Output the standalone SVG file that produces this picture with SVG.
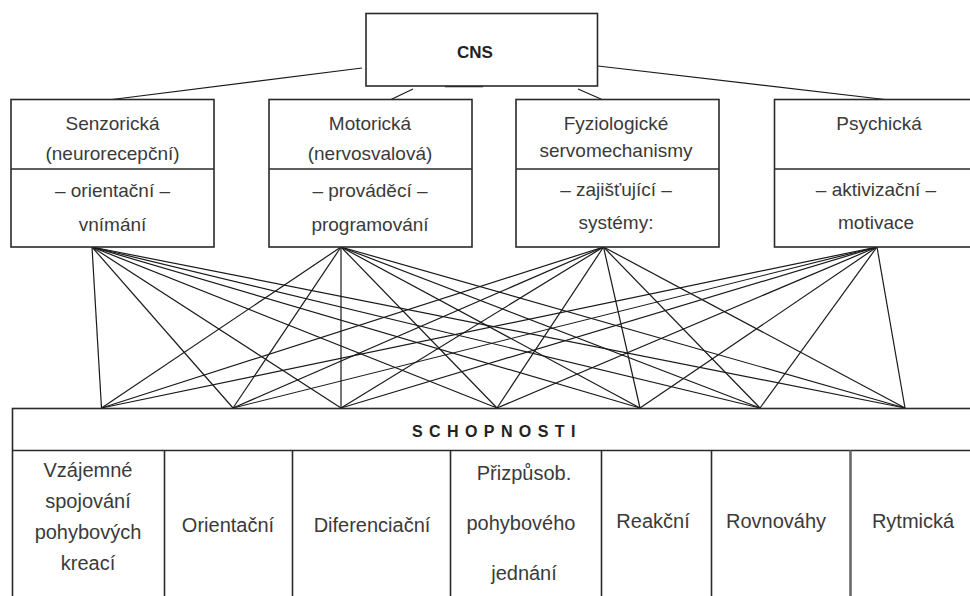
<svg xmlns="http://www.w3.org/2000/svg" width="970" height="596" viewBox="0 0 970 596">
<style>
.bg{fill:#ffffff}
.box{fill:#ffffff;stroke:#2a2a2a;stroke-width:1.6}
.div{stroke:#2a2a2a;stroke-width:1.6;fill:none}
.ln{stroke:#1a1a1a;stroke-width:1.2;fill:none}
.t{font-family:"Liberation Sans",Arial,sans-serif;font-size:19px;fill:#3a3a3a;text-anchor:middle}
.tc{font-family:"Liberation Sans",Arial,sans-serif;font-size:20px;fill:#3a3a3a;text-anchor:middle}
.b{font-family:"Liberation Sans",Arial,sans-serif;font-weight:bold;fill:#222222}
</style>
<rect class="bg" x="0" y="0" width="970" height="596"/>

<g id="connectors">
  <line class="ln" x1="362" y1="68" x2="112" y2="99.5"/>
  <line class="ln" x1="413" y1="89" x2="391" y2="99.5"/>
  <line class="ln" x1="578" y1="89" x2="602" y2="99.5"/>
  <line class="ln" x1="598" y1="66" x2="885" y2="99.5"/>
  <line x1="445" y1="86" x2="483" y2="86" stroke="#1a1a1a" stroke-width="2.6"/>

  <line class="ln" x1="92" y1="247" x2="101.5" y2="408"/>
  <line class="ln" x1="92" y1="247" x2="233" y2="408"/>
  <line class="ln" x1="92" y1="247" x2="341" y2="408"/>
  <line class="ln" x1="92" y1="247" x2="497" y2="408"/>
  <line class="ln" x1="92" y1="247" x2="640" y2="408"/>
  <line class="ln" x1="92" y1="247" x2="760" y2="408"/>
  <line class="ln" x1="92" y1="247" x2="905" y2="408"/>

  <line class="ln" x1="341" y1="247" x2="101.5" y2="408"/>
  <line class="ln" x1="341" y1="247" x2="233" y2="408"/>
  <line class="ln" x1="341" y1="247" x2="341" y2="408"/>
  <line class="ln" x1="341" y1="247" x2="497" y2="408"/>
  <line class="ln" x1="341" y1="247" x2="640" y2="408"/>
  <line class="ln" x1="341" y1="247" x2="760" y2="408"/>
  <line class="ln" x1="341" y1="247" x2="905" y2="408"/>

  <line class="ln" x1="603.5" y1="247" x2="101.5" y2="408"/>
  <line class="ln" x1="603.5" y1="247" x2="233" y2="408"/>
  <line class="ln" x1="603.5" y1="247" x2="341" y2="408"/>
  <line class="ln" x1="603.5" y1="247" x2="497" y2="408"/>
  <line class="ln" x1="603.5" y1="247" x2="640" y2="408"/>
  <line class="ln" x1="603.5" y1="247" x2="760" y2="408"/>
  <line class="ln" x1="603.5" y1="247" x2="905" y2="408"/>

  <line class="ln" x1="877" y1="247" x2="101.5" y2="408"/>
  <line class="ln" x1="877" y1="247" x2="233" y2="408"/>
  <line class="ln" x1="877" y1="247" x2="341" y2="408"/>
  <line class="ln" x1="877" y1="247" x2="497" y2="408"/>
  <line class="ln" x1="877" y1="247" x2="640" y2="408"/>
  <line class="ln" x1="877" y1="247" x2="760" y2="408"/>
  <line class="ln" x1="877" y1="247" x2="905" y2="408"/>
</g>

<g id="cns">
  <rect class="box" x="366" y="13.5" width="231.5" height="72.5"/>
  <text class="b" x="475" y="57.5" font-size="17" text-anchor="middle">CNS</text>
</g>

<g id="senzoricka">
  <rect class="box" x="11" y="99.5" width="203" height="147.5"/>
  <line class="div" x1="11" y1="169" x2="214" y2="169"/>
  <text class="t" x="112.5" y="130">Senzorická</text>
  <text class="t" x="112.5" y="160">(neurorecepční)</text>
  <text class="t" x="112.5" y="196.5">– orientační –</text>
  <text class="t" x="112.5" y="231">vnímání</text>
</g>

<g id="motoricka">
  <rect class="box" x="269" y="99.5" width="203" height="147.5"/>
  <line class="div" x1="269" y1="169" x2="472" y2="169"/>
  <text class="t" x="370" y="130">Motorická</text>
  <text class="t" x="370" y="160">(nervosvalová)</text>
  <text class="t" x="370" y="196.5">– prováděcí –</text>
  <text class="t" x="370" y="231">programování</text>
</g>

<g id="fyziologicke">
  <rect class="box" x="516" y="99.5" width="203" height="147.5"/>
  <line class="div" x1="516" y1="169" x2="719" y2="169"/>
  <text class="t" x="616" y="130">Fyziologické</text>
  <text class="t" x="616" y="157">servomechanismy</text>
  <text class="t" x="616" y="196">– zajišťující –</text>
  <text class="t" x="616" y="229">systémy:</text>
</g>

<g id="psychicka">
  <rect class="box" x="774.5" y="99.5" width="215" height="147.5"/>
  <line class="div" x1="774.5" y1="169" x2="990" y2="169"/>
  <text class="t" x="879" y="130">Psychická</text>
  <text class="t" x="876" y="196">– aktivizační –</text>
  <text class="t" x="876" y="229">motivace</text>
</g>

<g id="schopnosti">
  <rect class="box" x="12.5" y="408.5" width="980" height="200"/>
  <line class="div" x1="12.5" y1="450.5" x2="990" y2="450.5"/>
  <text class="b" x="412" y="437" font-size="16" letter-spacing="6.4">SCHOPNOSTI</text>
  <line class="div" x1="164.5" y1="450.5" x2="164.5" y2="600"/>
  <line class="div" x1="292.5" y1="450.5" x2="292.5" y2="600"/>
  <line class="div" x1="450.5" y1="450.5" x2="450.5" y2="600"/>
  <line class="div" x1="601.5" y1="450.5" x2="601.5" y2="600"/>
  <line class="div" x1="711.5" y1="450.5" x2="711.5" y2="600"/>
  <line x1="850.5" y1="450.5" x2="850.5" y2="600" stroke="#6a6a6a" stroke-width="2.6"/>
</g>

<g id="cell-vzajemne">
  <text class="tc" x="88" y="477">Vzájemné</text>
  <text class="tc" x="88" y="508">spojování</text>
  <text class="tc" x="88" y="539">pohybových</text>
  <text class="tc" x="88" y="570">kreací</text>
</g>
<g id="cell-orientacni">
  <text class="tc" x="228" y="532">Orientační</text>
</g>
<g id="cell-diferenciacni">
  <text class="tc" x="372" y="532">Diferenciační</text>
</g>
<g id="cell-prizpusob">
  <text class="tc" x="524" y="480">Přizpůsob.</text>
  <text class="tc" x="521" y="530">pohybového</text>
  <text class="tc" x="524" y="580">jednání</text>
</g>
<g id="cell-reakcni">
  <text class="tc" x="653" y="528">Reakční</text>
</g>
<g id="cell-rovnovahy">
  <text class="tc" x="776" y="528">Rovnováhy</text>
</g>
<g id="cell-rytmicka">
  <text class="tc" x="913" y="528">Rytmická</text>
</g>
</svg>
